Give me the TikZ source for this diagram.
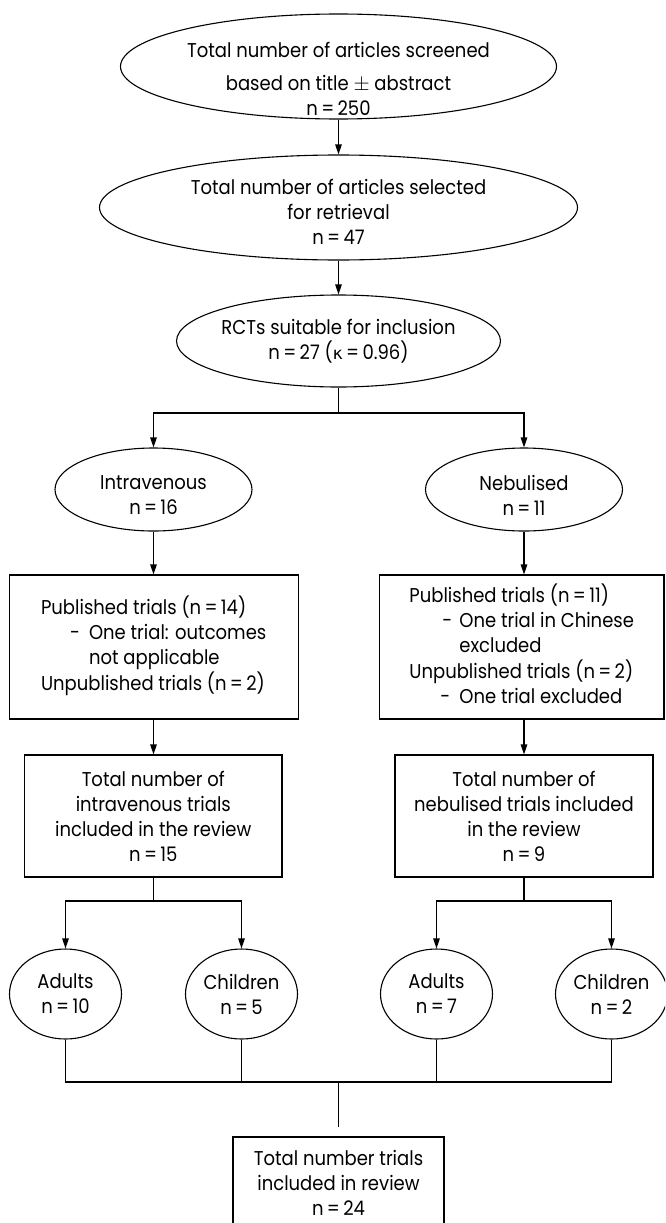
\documentclass[tikz,border=0pt]{standalone}
\usepackage{fontspec}
\setmainfont{Poppins}[FakeStretch=0.9]
\newfontfamily\grk{DejaVu Sans}
\usetikzlibrary{shapes.geometric,arrows.meta}
\begin{document}
\begin{tikzpicture}[x=1pt,y=-1pt,
  every node/.style={font=\fontsize{20}{25}\selectfont},
  ell/.style={draw, ellipse, inner sep=0pt, line width=1.1pt},
  box/.style={draw, rectangle, inner sep=0pt, line width=1.1pt},
  txt/.style={align=center, inner sep=0pt},
  conn/.style={line width=1.1pt},
  arr/.style={conn, -{Triangle[length=10pt,width=6.5pt]}},
]
\useasboundingbox (0,0) rectangle (665,1223);
\clip (0,0) rectangle (665,1223);

% top chain
\node[ell, minimum width=436pt, minimum height=105pt,
  label={[txt, yshift=-12.5pt]center:{Total number of articles screened\\[8pt]based on title $\pm$ abstract\\n\,=\,250}}]
  (e1) at (338.5,66.5) {};
\node[ell, minimum width=478pt, minimum height=105pt,
  label={[txt, yshift=-4.5pt]center:{Total number of articles selected\\for retrieval\\n\,=\,47}}]
  (e2) at (338.5,207.5) {};
\node[ell, minimum width=324pt, minimum height=92pt,
  label={[txt]center:{RCTs suitable for inclusion\\n\,=\,27 ({\grk\fontsize{17}{25}\selectfont κ}\,=\,0.96)}}]
  (e3) at (338.5,341) {};

% route ellipses
\node[ell, minimum width=197pt, minimum height=83pt,
  label={[txt, yshift=-6pt]center:{Intravenous\\n\,=\,16}}]
  (iv) at (153.5,489.5) {};
\node[ell, minimum width=197pt, minimum height=83pt,
  label={[txt, yshift=-6pt]center:{Nebulised\\n\,=\,11}}]
  (nb) at (524,489.5) {};

% first boxes
\node[box, minimum width=289pt, minimum height=144pt] (ivb1) at (153.7,647)
  {\begin{tabular}{@{}l@{}}
   Published trials (n\,=\,14)\\
   \hspace*{29pt}\makebox[19pt][l]{-}One trial: outcomes\\
   \hspace*{48pt}not applicable\\
   Unpublished trials (n\,=\,2)
   \end{tabular}};
\node[box, minimum width=284.5pt, minimum height=144pt] (nbb1) at (521.7,647)
  {\begin{tabular}{@{}l@{}}
   Published trials (n\,=\,11)\\
   \hspace*{33pt}\makebox[17pt][l]{-}One trial in Chinese\\
   \hspace*{50pt}excluded\\
   Unpublished trials (n\,=\,2)\\
   \hspace*{31pt}\makebox[19pt][l]{-}One trial excluded
   \end{tabular}};

% second boxes
\node[box, txt, minimum width=257.4pt, minimum height=122pt] (ivb2) at (153.3,816)
  {Total number of\\intravenous trials\\included in the review\\n\,=\,15};
\node[box, txt, minimum width=258pt, minimum height=122pt] (nbb2) at (524,816)
  {Total number of\\nebulised trials included\\in the review\\n\,=\,9};

% age groups
\node[ell, minimum width=112pt, minimum height=90pt,
  label={[txt]center:{Adults\\n\,=\,10}}] (a1) at (65.5,994) {};
\node[ell, minimum width=112pt, minimum height=90pt,
  label={[txt]center:{Children\\n\,=\,5}}] (c1) at (241.5,994) {};
\node[ell, minimum width=112pt, minimum height=90pt,
  label={[txt]center:{Adults\\n\,=\,7}}] (a2) at (436.5,994) {};
\node[ell, minimum width=112pt, minimum height=90pt,
  label={[txt]center:{Children\\n\,=\,2}}] (c2) at (611.5,994) {};

% final box
\node[box, txt, minimum width=211pt, minimum height=91pt] (fin) at (338.5,1182.5)
  {Total number trials\\included in review\\n\,=\,24};

% junction coordinates
\coordinate (s1) at (338.5,413);
\coordinate (s2) at (153.5,901);
\coordinate (s3) at (524,901);
\coordinate (bus) at (338.5,1082);
\coordinate (endp) at (338.5,1127);

% connectors
\draw[arr] (e1.south) -- (e2.north);
\draw[arr] (e2.south) -- (e3.north);
\draw[conn] (e3.south) -- (s1);
\draw[arr] (s1) -| (iv.north);
\draw[arr] (s1) -| (nb.north);
\draw[arr] (iv.south) -- (iv.south |- ivb1.north);
\draw[arr] (nb.south) -- (nb.south |- nbb1.north);
\draw[arr] (iv.south |- ivb1.south) -- (iv.south |- ivb2.north);
\draw[arr] (nb.south |- nbb1.south) -- (nb.south |- nbb2.north);
\draw[conn] (ivb2.south) -- (ivb2.south |- s2);
\draw[conn] (nbb2.south) -- (nbb2.south |- s3);
\draw[arr] (s2) -| (a1.north);
\draw[arr] (s2) -| (c1.north);
\draw[arr] (s3) -| (a2.north);
\draw[arr] (s3) -| (c2.north);
\draw[conn] (a1.south) |- (bus) -| (c2.south);
\draw[conn] (c1.south) -- (c1.south |- bus);
\draw[conn] (a2.south) -- (a2.south |- bus);
\draw[conn] (bus) -- (endp);
\end{tikzpicture}
\end{document}
